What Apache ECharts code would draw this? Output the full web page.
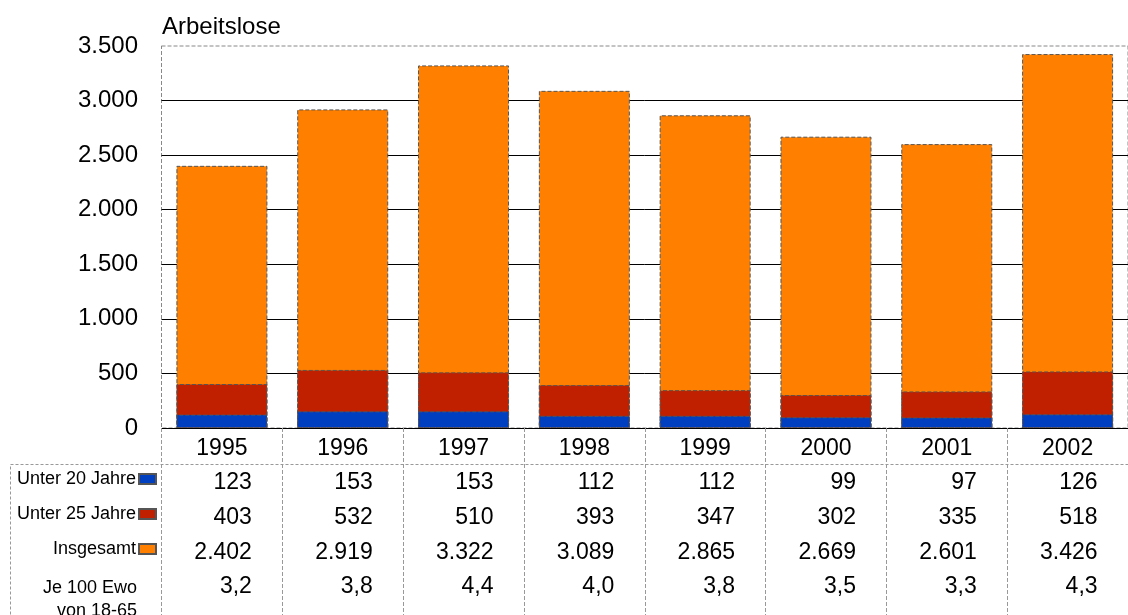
<!DOCTYPE html>
<html><head><meta charset="utf-8">
<script src="https://cdn.jsdelivr.net/npm/echarts@6/dist/echarts.min.js"></script>
<style>html,body{margin:0;padding:0;background:#fff}#c{width:1128px;height:615px}</style>
</head><body><div id="c"></div>
<script>
const years = ['1995','1996','1997','1998','1999','2000','2001','2002'];
const unter20 = [123,153,153,112,112,99,97,126];
const unter25 = [403,532,510,393,347,302,335,518];
const insgesamt = [2402,2919,3322,3089,2865,2669,2601,3426];
const je100 = [3.2,3.8,4.4,4.0,3.8,3.5,3.3,4.3];
const yTicks = [0,500,1000,1500,2000,2500,3000,3500];

const FONT = '"Liberation Sans", Arial, sans-serif';
const fmtInt = v => String(v).replace(/\B(?=(\d{3})+(?!\d))/g, '.');
const fmtDec = v => v.toFixed(1).replace('.', ',');

const chart = echarts.init(document.getElementById('c'), null, {renderer:'canvas'});
const zeroY = 428;
function rowAxis(data, offset){
  return {
    type:'category', gridIndex:0, position:'bottom', offset: offset,
    data: data,
    axisLine:{show:false}, axisTick:{show:false}, splitLine:{show:false},
    axisLabel:{interval:0, margin:8, formatter: v => '{a|' + v + '}',
      rich:{a:{width:60, align:'right', fontSize:23, lineHeight:23, color:'#000', fontFamily:FONT}}}
  };
}
const splitColors = yTicks.map((t,i) => i === yTicks.length-1 ? 'rgba(0,0,0,0)' : '#000');
const option = {
  animation:false,
  textStyle:{fontFamily:FONT},
  grid:{left:161.5, right:-10, top:46, bottom:615-zeroY, show:true, borderColor:'#888', borderWidth:1, borderType:'dashed'},
  legend:{
    orient:'vertical', right:1128-157, top:470, align:'right', padding:0,
    data:['Unter 20 Jahre','Unter 25 Jahre','Insgesamt'],
    icon:'rect', itemWidth:17, itemHeight:10, itemGap:17,
    textStyle:{fontSize:18, color:'#000', fontFamily:FONT, lineHeight:18, padding:[0,-2,0,0]}
  },
  title:{text:'Arbeitslose', left:162, top:15, padding:0, textStyle:{fontSize:24, fontWeight:'normal', color:'#000', fontFamily:FONT}},
  xAxis:[
    {type:'category', data:years, gridIndex:0, position:'bottom',
      axisLine:{show:true, onZero:false, lineStyle:{color:'#000', width:1}},
      axisTick:{show:true, alignWithLabel:false, inside:false, length:190, lineStyle:{color:'#999', type:'dashed', width:1}},
      axisLabel:{margin:9, fontSize:23, lineHeight:23, color:'#000', fontFamily:FONT}},
    rowAxis(unter20.map(fmtInt), 35),
    rowAxis(unter25.map(fmtInt), 70.5),
    rowAxis(insgesamt.map(fmtInt), 105.5),
    rowAxis(je100.map(fmtDec), 139.5)
  ],
  yAxis:{type:'value', min:yTicks[0], max:yTicks[yTicks.length-1], interval:yTicks[1]-yTicks[0],
    axisLine:{show:false}, axisTick:{show:false},
    splitLine:{show:true, lineStyle:{color:splitColors, width:1}},
    axisLabel:{margin:23.5, fontSize:24, color:'#000', fontFamily:FONT, formatter:v=>fmtInt(v)}},
  series:[
    {name:'Insgesamt', type:'bar', data:insgesamt, barWidth:91, barGap:'-100%',
      itemStyle:{color:'#FF8000', borderColor:'#555', borderWidth:1, borderType:'dashed'}},
    {name:'Unter 25 Jahre', type:'bar', data:unter25, barWidth:91, barGap:'-100%',
      itemStyle:{color:'#C02000', borderColor:'#555', borderWidth:1, borderType:'dashed'}},
    {name:'Unter 20 Jahre', type:'bar', data:unter20, barWidth:91, barGap:'-100%',
      itemStyle:{color:'#0040C0', borderColor:'#555', borderWidth:1, borderType:'dashed'}}
  ],
  graphic:[
    {type:'rect', silent:true, z:-1, shape:{x:10.5, y:464.5, width:1130, height:200},
      style:{fill:null, stroke:'#999', lineWidth:1, lineDash:[3,2]}},
    {type:'text', silent:true, x:137, y:576.5,
      style:{text:'Je 100 Ewo\nvon 18-65', align:'right', verticalAlign:'top', lineHeight:23, fill:'#000', font:'18px "Liberation Sans", Arial, sans-serif'}}
  ]
};
chart.setOption(option);
</script>
</body></html>
